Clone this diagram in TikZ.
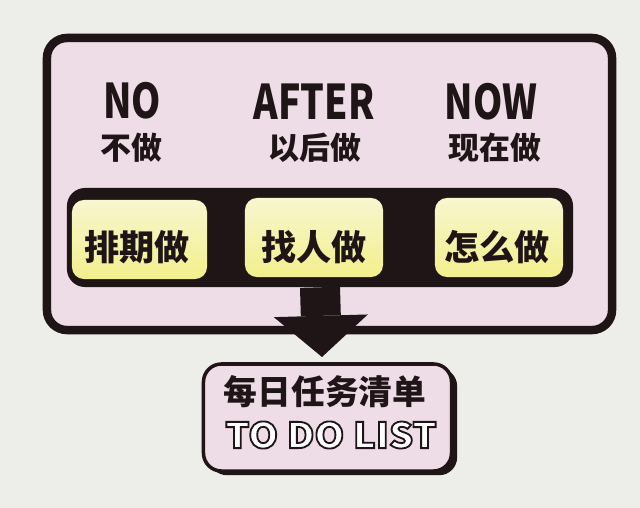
\documentclass[tikz,border=0pt]{standalone}
\usepackage{fontspec}
\usetikzlibrary{arrows.meta}
\usetikzlibrary{shadows}

\newfontfamily\cjk{Noto Sans CJK SC}
\newfontfamily\cjknarrow{Noto Sans CJK SC}[FakeStretch=0.78]
\newfontfamily\cjkwide{Noto Sans CJK SC}[FakeStretch=1.08]

\definecolor{paper}{HTML}{EDEDEA}
\definecolor{ink}{HTML}{1F1517}
\definecolor{blush}{HTML}{EEDCE6}
\definecolor{lemon}{HTML}{F2EF8C}
\definecolor{lemontop}{HTML}{F8F6CF}

% hollow letters: white fill, dark stroke
\newcommand\hollow[1]{{\color{white}\special{pdf:literal direct 0.12 0.08 0.09 RG 1.3 w 2 Tr}#1\special{pdf:literal direct 0 Tr}}}

\begin{document}
\begin{tikzpicture}[x=0.025cm, y=-0.025cm,
            frame node/.style={rectangle,rounded corners=0.5cm,draw=ink,fill=blush,line width=6pt},
            bar node/.style={rectangle,rounded corners=0.45cm,fill=ink},
            task node/.style={rectangle,rounded corners=0.3cm,top color=lemontop,bottom color=lemon,minimum height=1.975cm},
            head node/.style={font=\cjknarrow\bfseries\fontsize{34}{34}\selectfont,text=ink},
            sub node/.style={font=\cjk\bfseries\fontsize{22}{22}\selectfont,text=ink},
            task text/.style={font=\cjk\bfseries\fontsize{25}{25}\selectfont,text=ink},
            list node/.style={rectangle,rounded corners=0.45cm,draw=ink,fill=blush,line width=2.5pt,
                drop shadow={fill=ink,opacity=1,shadow xshift=4pt,shadow yshift=-3pt}},
            list text/.style={font=\cjk\bfseries\fontsize{24}{24}\selectfont,text=ink},
            outline text/.style={font=\cjkwide\bfseries\fontsize{25}{25}\selectfont},
            ]
            \fill[paper] (0,0) rectangle (640,508);
            \useasboundingbox (0,0) rectangle (640,508);
            
            \node[frame node, minimum width=14.125cm, minimum height=7.3cm] (frame) at (329.5,184) {};
            
            \node[head node] (no) at (132,101) {NO};
            \node[head node] (after) at (314,102) {AFTER};
            \node[head node] (now) at (491,102) {NOW};
            \node[sub node] (s1) at (131,148) {不做};
            \node[sub node] (s2) at (315,148) {以后做};
            \node[sub node] (s3) at (495,148) {现在做};
            
            \node[bar node, minimum width=12.65cm, minimum height=2.475cm] (bar) at (320,237.5) {};
            \node[task node, minimum width=3.375cm] (t1) at (139.5,239.5) {};
            \node[task node, minimum width=3.45cm] (t2) at (314,237.5) {};
            \node[task node, minimum width=3.2cm] (t3) at (499,237.5) {};
            \node[task text] (l1) at (137,247) {排期做};
            \node[task text] (l2) at (314,247) {找人做};
            \node[task text] (l3) at (497,247) {怎么做};
            
            \node[list node, minimum width=6.2cm, minimum height=2.675cm] (list) at (327.5,417.5) {};
            \node[list text] (l4) at (325,392) {每日任务清单};
            \node[outline text] (l5) at (331,435) {\hollow{TO DO LIST}};
            
            \coordinate (tip) at (322,357);
            \draw[ink, line width=1cm, -{Triangle[length=1.03cm, width=2.35cm, line width=0pt]}] (bar.south) -- (tip);
        \end{tikzpicture}
\end{document}
